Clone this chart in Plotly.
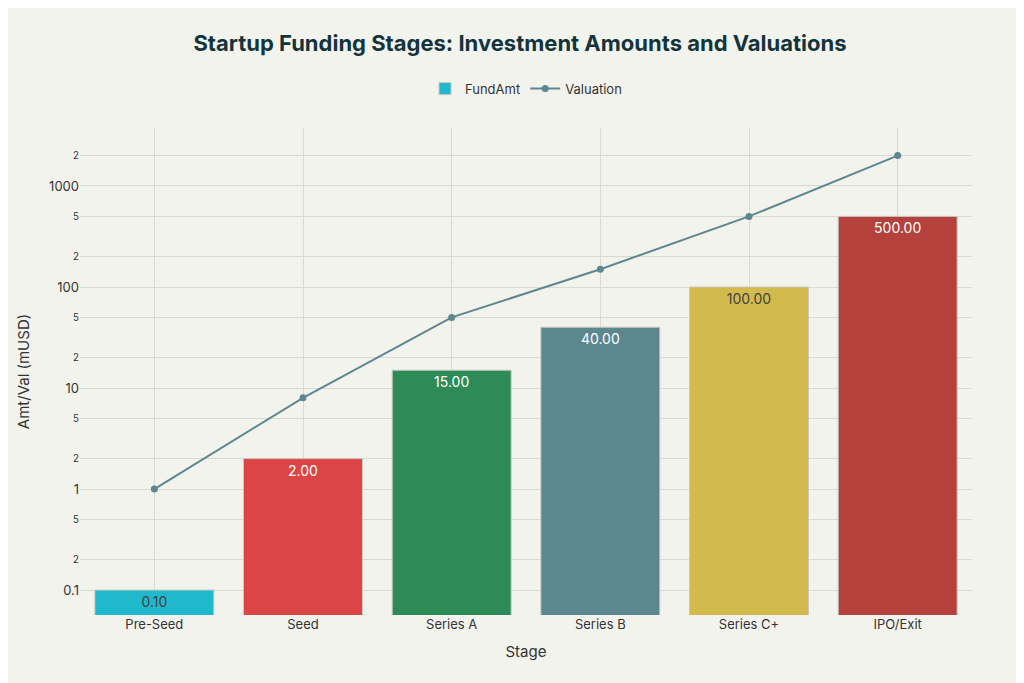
import plotly.graph_objects as go

stages = ["Pre-Seed", "Seed", "Series A", "Series B", "Series C+", "IPO/Exit"]
fund_amt = [0.1, 2, 15, 40, 100, 500]
valuation = [1, 8, 50, 150, 500, 2000]
bar_colors = ["#1FB8CD", "#DB4545", "#2E8B57", "#5D878F", "#D2BA4C", "#B4413C"]

fig = go.Figure()
fig.add_trace(go.Bar(x=stages, y=fund_amt, name="FundAmt", marker_color=bar_colors,
                     marker_line=dict(color="#C8C8C0", width=1),
                     text=[f"{v:.2f}" for v in fund_amt], textposition="inside",
                     insidetextanchor="end", textfont=dict(size=14)))
fig.add_trace(go.Scatter(x=stages, y=valuation, name="Valuation", mode="lines+markers",
                         line=dict(color="#5D878F", width=2), marker=dict(size=7, color="#5D878F")))
fig.update_layout(
    width=1024, height=683, paper_bgcolor="#F3F3EE", plot_bgcolor="#F3F3EE",
    font=dict(family="Inter", size=13, color="#333"),
    title=dict(text="<b>Startup Funding Stages: Investment Amounts and Valuations</b>",
               x=0.5, y=0.96, xanchor="center", font=dict(size=22, color="#13343B")),
    legend=dict(orientation="h", x=0.5, xanchor="center", y=1.05, yanchor="bottom", font=dict(size=13)),
    margin=dict(l=72, r=60, t=120, b=76),
    bargap=0.2, showlegend=True,
)
fig.update_yaxes(type="log", range=[-1.247, 3.574], dtick="D2", title_text="Amt/Val (mUSD)",
                 gridcolor="#DADAD4", zeroline=False, showline=False, title_font=dict(size=15))
fig.update_xaxes(title_text="Stage", showgrid=True, gridcolor="#DADAD4", title_font=dict(size=15))
fig.write_html("out.html")
